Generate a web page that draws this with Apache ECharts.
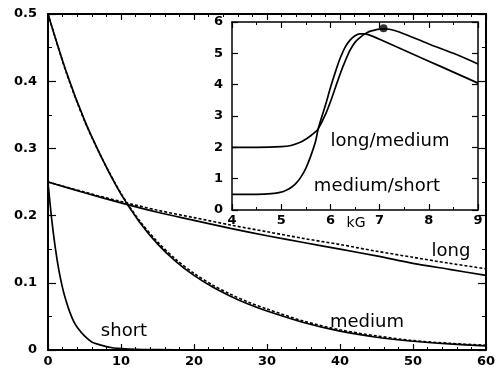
<!DOCTYPE html>
<html>
<head>
<meta charset="utf-8">
<script src="https://cdn.jsdelivr.net/npm/echarts@6/dist/echarts.min.js"></script>
<style>html,body{margin:0;padding:0;background:#fff}#c{width:498px;height:368px}</style>
</head>
<body>
<div id="c"></div>
<script>
// ---- main panel data ----
const mediumX = [0,2.5,5,7.5,10,12.5,15,17.5,20,22.5,25,27.5,30,35,40,45,50,55,60];
const mediumSolid = [0.500,0.414,0.342,0.283,0.232,0.191,0.158,0.132,0.111,0.094,0.080,0.068,0.058,0.041,0.028,0.019,0.013,0.009,0.006];
const mediumDashed = [0.500,0.413,0.341,0.283,0.233,0.193,0.161,0.135,0.114,0.097,0.083,0.071,0.061,0.043,0.030,0.021,0.014,0.010,0.007];
const longX = [0,5,10,15,20,25,30,35,40,45,50,55,60];
const longSolid = [0.250,0.234,0.219,0.205,0.193,0.181,0.170,0.160,0.150,0.140,0.129,0.120,0.111];
const longDashed = [0.250,0.235,0.221,0.208,0.197,0.186,0.176,0.166,0.157,0.147,0.138,0.129,0.121];
const shortX = [0,0.5,1,1.5,2,2.5,3,3.5,4,5,6,7,8,9,10,12,15,20,30,40,50,60];
const shortY = [0.250,0.195,0.152,0.118,0.092,0.072,0.056,0.043,0.034,0.021,0.012,0.008,0.005,0.003,0.002,0.001,0.0005,0,0,0,0,0];
const mainYTicks = ['0','0.1','0.2','0.3','0.4','0.5'];

// ---- inset data (kG) ----
const lmX = [4,4.5,5,5.2,5.4,5.5,5.6,5.7,5.75,5.9,6.0,6.1,6.2,6.3,6.4,6.5,6.6,6.7,6.8,6.9,7.0,7.1,7.2,7.4,8.0,8.5,9.0];
const longMedium = [2.00,2.00,2.02,2.06,2.17,2.26,2.37,2.50,2.58,3.05,3.45,3.90,4.35,4.75,5.10,5.35,5.50,5.62,5.70,5.74,5.77,5.78,5.77,5.68,5.30,5.00,4.66];
const msX = [4,4.5,4.8,5.0,5.1,5.2,5.3,5.4,5.5,5.6,5.7,5.75,5.8,5.9,6.0,6.1,6.2,6.3,6.4,6.5,6.6,6.7,6.8,7.0,7.5,8.0,8.5,9.0];
const mediumShort = [0.50,0.50,0.52,0.57,0.63,0.72,0.85,1.05,1.33,1.72,2.20,2.58,2.85,3.35,3.90,4.40,4.85,5.20,5.42,5.56,5.62,5.62,5.58,5.45,5.10,4.75,4.40,4.05];
const peakPoint = [7.08, 5.80];

const zip = (xs, ys) => xs.map((x, i) => [x, ys[i]]);
const F = '"DejaVu Sans"';
const tickLbl = {fontFamily: F, fontWeight: 'bold', fontSize: 13, color: '#000'};

function axX(gi, pos, show, min, max, interval, minorSplit, extra) {
  return Object.assign({
    type: 'value', gridIndex: gi, position: pos, min, max, interval,
    axisLine: {show: true, onZero: false, lineStyle: {color: '#000', width: gi === 0 ? 2 : 1.5}},
    axisTick: {show: true, inside: true, length: 6, lineStyle: {color: '#000', width: 1.2}},
    minorTick: {show: true, splitNumber: minorSplit, length: 3, lineStyle: {color: '#000', width: 1}},
    splitLine: {show: false},
    axisLabel: Object.assign({show: show, margin: gi === 0 ? 5 : 4}, tickLbl)
  }, extra || {});
}
function axY(gi, pos, show, min, max, interval, minorSplit, extra) {
  return Object.assign({
    type: 'value', gridIndex: gi, position: pos, min, max, interval,
    axisLine: {show: true, onZero: false, lineStyle: {color: '#000', width: gi === 0 ? 2 : 1.5}},
    axisTick: {show: true, inside: true, length: gi === 0 ? 8 : 6, lineStyle: {color: '#000', width: 1.2}},
    minorTick: {show: minorSplit > 1, splitNumber: minorSplit, length: 4, lineStyle: {color: '#000', width: 1}},
    splitLine: {show: false},
    axisLabel: Object.assign({show: show, margin: gi === 0 ? 11 : 9}, tickLbl)
  }, extra || {});
}

const solid = {color: '#000', width: 1.7, type: 'solid'};
const dashed = {color: '#000', width: 1.6, type: [3, 2]};
function line(xi, yi, data, ls) {
  return {type: 'line', xAxisIndex: xi, yAxisIndex: yi, data, showSymbol: false, symbol: 'none',
    smooth: 0.3, lineStyle: ls, silent: true, z: 3};
}

const chart = echarts.init(document.getElementById('c'), null, {renderer: 'canvas'});
chart.setOption({
  animation: false,
  backgroundColor: '#fff',
  grid: [
    {left: 48, right: 11, top: 14, bottom: 17, containLabel: false},
    {left: 232, top: 22, width: 246, height: 188, containLabel: false, show: true, backgroundColor: '#fff', borderWidth: 0}
  ],
  xAxis: [
    axX(0, 'bottom', true, 0, 60, 10, 5),
    axX(0, 'top', false, 0, 60, 10, 5),
    axX(1, 'bottom', true, 4, 9, 1, 2),
    axX(1, 'top', false, 4, 9, 1, 2)
  ],
  yAxis: [
    axY(0, 'left', true, 0, 0.5, 0.1, 2, {axisLabel: Object.assign({show: true, margin: 11,
      formatter: v => mainYTicks[Math.round(v * 10)]}, tickLbl)}),
    axY(0, 'right', false, 0, 0.5, 0.1, 2),
    axY(1, 'left', true, 0, 6, 1, 1),
    axY(1, 'right', false, 0, 6, 1, 1)
  ],
  series: [
    line(0, 0, zip(shortX, shortY), solid),
    line(0, 0, zip(mediumX, mediumSolid), solid),
    line(0, 0, zip(mediumX, mediumDashed), dashed),
    line(0, 0, zip(longX, longSolid), solid),
    line(0, 0, zip(longX, longDashed), dashed),
    line(2, 2, zip(lmX, longMedium), solid),
    line(2, 2, zip(msX, mediumShort), solid),
    {type: 'scatter', xAxisIndex: 2, yAxisIndex: 2, data: [peakPoint], symbol: 'circle', symbolSize: 8,
      itemStyle: {color: '#000'}, silent: true, z: 4}
  ],
  graphic: [
    {type: 'text', x: 451, y: 251, style: {text: 'long', font: 'normal 18px ' + F, fill: '#000', textAlign: 'center', textVerticalAlign: 'middle'}},
    {type: 'text', x: 367, y: 322, style: {text: 'medium', font: 'normal 18px ' + F, fill: '#000', textAlign: 'center', textVerticalAlign: 'middle'}},
    {type: 'text', x: 124, y: 331, style: {text: 'short', font: 'normal 18px ' + F, fill: '#000', textAlign: 'center', textVerticalAlign: 'middle'}},
    {type: 'text', x: 390, y: 141, style: {text: 'long/medium', font: 'normal 18px ' + F, fill: '#000', textAlign: 'center', textVerticalAlign: 'middle'}, z: 10},
    {type: 'text', x: 377, y: 186, style: {text: 'medium/short', font: 'normal 18px ' + F, fill: '#000', textAlign: 'center', textVerticalAlign: 'middle'}, z: 10},
    {type: 'text', x: 356, y: 223, style: {text: 'kG', font: 'normal 14px ' + F, fill: '#000', textAlign: 'center', textVerticalAlign: 'middle'}, z: 10}
  ]
});
</script>
</body>
</html>
